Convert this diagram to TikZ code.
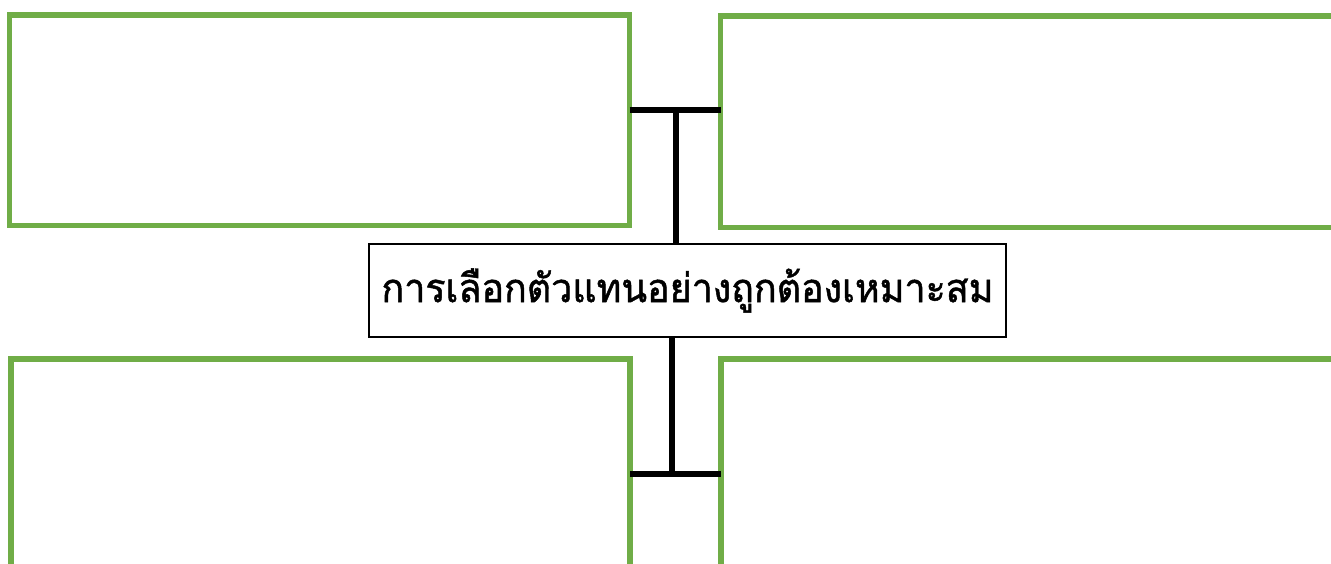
\documentclass[tikz,border=0pt]{standalone}
\usepackage{fontspec}
\newfontfamily\thaifont[Script=Thai,FakeStretch=0.94,FakeBold=1.2]{Loma}
\usepackage{tikz}
\usetikzlibrary{positioning,fit}

\begin{document}
\begin{tikzpicture}[x=0.5pt,y=-0.5pt]

    %
    % Styles for panels, title and joins
    %
    \tikzstyle{panel} = [draw=panelGreen, line width=2.8pt, rectangle, inner sep=0pt, outer sep=0pt];
    \tikzstyle{title} = [draw=black, line width=1.4pt, rectangle, inner sep=0pt, outer sep=0pt,
                         font={\thaifont\fontsize{20}{24}\selectfont}, text=black];
    \tikzstyle{joinBar} = [black, line width=3pt];
    \definecolor{panelGreen}{RGB}{112,173,71}

    \useasboundingbox (0,0) rectangle (1331,563);
    \clip (0,0) rectangle (1331,563);

    %
    % Position panels
    %
    \node[panel, name=topLeft, fit={(9.5,15) (629.5,225.5)}] {};
    \node[panel, name=topRight, fit={(720.5,16) (1360,227.5)}] {};
    \node[panel, name=bottomLeft, fit={(11,359) (630,600)}] {};
    \node[panel, name=bottomRight, fit={(721,359) (1360,600)}] {};

    \node[title, name=choice, minimum width=318.5pt, minimum height=46.5pt] at (687.5,290.5)
      {การเลือกตัวแทนอย่างถูกต้องเหมาะสม};

    %
    % Join panels to the title
    %
    \coordinate (upperJoin) at (676,109.5);
    \coordinate (lowerJoin) at (672,473.5);

    \draw[joinBar] (topLeft.east |- upperJoin) -- (topRight.west |- upperJoin);
    \draw[joinBar] (upperJoin) -- (choice.north -| upperJoin);

    \draw[joinBar] (bottomLeft.east |- lowerJoin) -- (bottomRight.west |- lowerJoin);
    \draw[joinBar] (choice.south -| lowerJoin) -- (lowerJoin);
  \end{tikzpicture}
\end{document}
